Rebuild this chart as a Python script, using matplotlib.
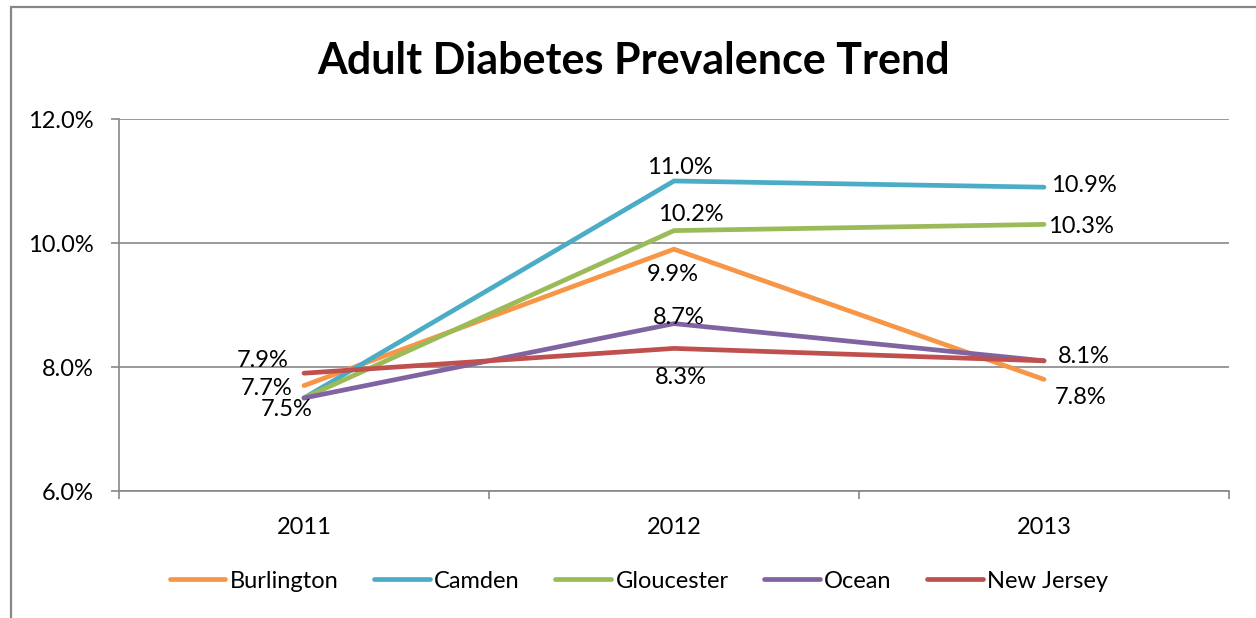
import matplotlib
matplotlib.use("Agg")
import matplotlib.pyplot as plt
from matplotlib.patches import Rectangle
from matplotlib.ticker import FixedLocator, FuncFormatter

plt.rcParams['font.family'] = ['Lato', 'DejaVu Sans']

years = ["2011", "2012", "2013"]
series_names = ["Burlington", "Camden", "Gloucester", "Ocean", "New Jersey"]
burlington = [7.7, 9.9, 7.8]
camden = [7.5, 11.0, 10.9]
gloucester = [7.5, 10.2, 10.3]
ocean = [7.5, 8.7, 8.1]
new_jersey = [7.9, 8.3, 8.1]
y_ticks = [6.0, 8.0, 10.0, 12.0]

series_values = [burlington, camden, gloucester, ocean, new_jersey]
colors = ["#F79646", "#4BACC6", "#9BBB59", "#8064A2", "#C0504D"]

# which labels are shown, with pixel offsets (series index, point index, dx, dy)
label_specs = [
    (4, 0, -41, 13), (0, 0, -37, -3), (3, 0, -17, -12),
    (1, 1, 6, 14), (2, 1, 17, 16), (0, 1, -1, -25), (3, 1, 5, 6), (4, 1, 7, -29),
    (1, 2, 40, 2), (2, 2, 37, -2), (3, 2, 40, 4), (0, 2, 37, -18),
]

FS = 17

fig = plt.figure(figsize=(12.56, 6.18), dpi=100)
fig.patches.append(Rectangle((11 / 1256, -0.05), 1.2, 1 - 7 / 618 + 0.05,
                             transform=fig.transFigure, fill=False,
                             edgecolor="#878787", linewidth=1.6, zorder=0))

ax = fig.add_axes([119 / 1256, 1 - 491 / 618, (1229 - 119) / 1256, (491 - 119) / 618])
x = list(range(len(years)))
for name, vals, c in zip(series_names, series_values, colors):
    ax.plot(x, vals, color=c, linewidth=3.4, solid_capstyle="round",
            solid_joinstyle="miter", label=name, zorder=3)

for si, pi, dx, dy in label_specs:
    v = series_values[si][pi]
    ax.annotate(f"{v:.1f}%", (x[pi], v), xytext=(dx, dy), textcoords="offset pixels",
                ha="center", va="center", fontsize=FS, color="black", zorder=5)

ax.set_xlim(-0.5, len(years) - 0.5)
ax.set_ylim(6.0, 12.0)
ax.set_yticks(y_ticks)
ax.yaxis.set_major_formatter(FuncFormatter(lambda v, p: f"{v:.1f}%"))
ax.set_xticks(x)
ax.set_xticklabels(years)
ax.xaxis.set_minor_locator(FixedLocator([i - 0.5 for i in range(len(years) + 1)]))
ax.tick_params(axis="x", which="major", length=0, pad=19, labelsize=FS)
ax.tick_params(axis="x", which="minor", length=6, width=1.2, color="#878787", direction="out")
ax.tick_params(axis="y", length=6, width=1.2, color="#878787", pad=12, labelsize=FS)
ax.grid(axis="y", color="#878787", linewidth=1.2, zorder=1)
for s in ["top", "right"]:
    ax.spines[s].set_visible(False)
for s in ["left", "bottom"]:
    ax.spines[s].set_color("#878787")
    ax.spines[s].set_linewidth(1.2)

fig.text(634 / 1256, 1 - 61 / 618, "Adult Diabetes Prevalence Trend", ha="center", va="center",
         fontsize=31, fontweight="bold")

leg = fig.legend(loc="center", bbox_to_anchor=(639 / 1256, 1 - 581 / 618), ncol=5,
                 frameon=False, fontsize=FS, handlelength=2.35, handletextpad=0.2,
                 columnspacing=1.5)
for h in leg.legend_handles:
    h.set_solid_capstyle("round")

fig.savefig("out.png", dpi=100)
